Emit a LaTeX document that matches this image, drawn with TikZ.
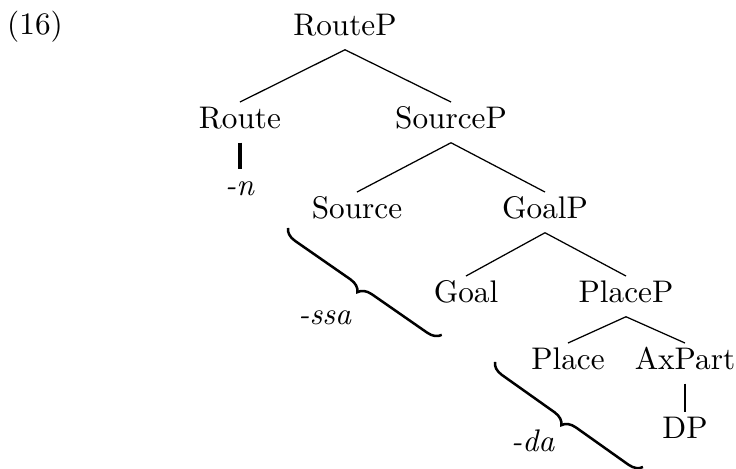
\documentclass[tikz,border=0pt]{standalone}
\usetikzlibrary{decorations.pathreplacing}

\begin{document}
\begin{tikzpicture}[x=0.32pt,y=-0.32pt]
\useasboundingbox (0,0) rectangle (736,469);
\tikzset{lbl/.style={anchor=base,inner ysep=1.6pt,text height=6.83pt,text depth=2.6pt},
  brc/.style={thick,decorate,decoration={brace,mirror,amplitude=4.2pt}}}
\node [lbl] (ex) at (35,35) {(16)};
\node [lbl] (routep) at (345,36) {RouteP};
\node [lbl] (route) at (240,129) {Route};
\node [lbl] (sourcep) at (451,129) {SourceP};
\node [lbl] (rn) at (240,196) {\textit{-n}};
\node [lbl] (source) at (357,219) {Source};
\node [lbl] (goalp) at (545,219) {GoalP};
\node [lbl] (goal) at (466,303) {Goal};
\node [lbl] (placep) at (626,303) {PlaceP};
\node [lbl] (place) at (568,370) {Place};
\node [lbl] (axpart) at (685,370) {AxPart};
\node [lbl] (dp) at (685,439) {DP};
\draw (routep.south) -- (route.north);
\draw (routep.south) -- (sourcep.north);
\draw (sourcep.south) -- (source.north);
\draw (sourcep.south) -- (goalp.north);
\draw (goalp.south) -- (goal.north);
\draw (goalp.south) -- (placep.north);
\draw (placep.south) -- (place.north);
\draw (placep.south) -- (axpart.north);
\draw [very thick] (route.south) -- (rn.north);
\draw [semithick] (axpart.south) -- (dp.north);
% brackets under the spelled-out heads
\coordinate (b1) at (288,228);
\coordinate (b2) at (442,335);
\coordinate (b3) at (495,362);
\coordinate (b4) at (643,467);
\draw [brc] (b1) -- (b2);
\draw [brc] (b3) -- (b4);
\node [lbl] (ssa) at (325,325) {\textit{-ssa}};
\node [lbl] (da) at (533,452) {\textit{-da}};
\end{tikzpicture}
\end{document}
